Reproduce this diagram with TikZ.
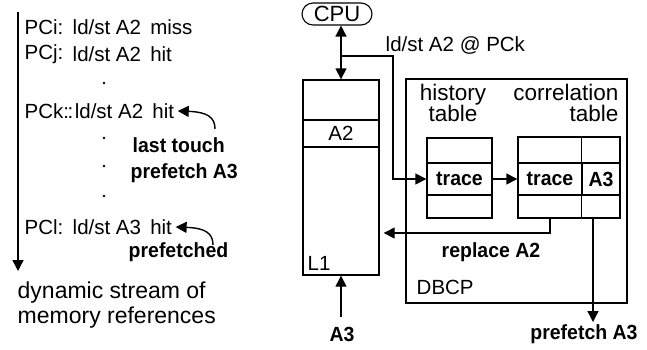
\documentclass[tikz,border=0pt]{standalone}
\usepackage{fontspec}
\setmainfont{Liberation Sans}
\newfontfamily\condsans[FakeStretch=0.95]{Liberation Sans}
\usetikzlibrary{arrows.meta}
\begin{document}
\begin{tikzpicture}[x=1pt,y=-1pt, line width=1.4pt,
  tip/.style={-{Triangle[length=11pt,width=11pt]}},
  dtip/.style={{Triangle[length=11pt,width=11pt]}-{Triangle[length=11pt,width=11pt]}},
  reg/.style={font=\fontsize{20.5}{24}\selectfont, inner sep=0pt},
  big/.style={font=\fontsize{23}{26}\selectfont, inner sep=0pt},
  bld/.style={font=\condsans\bfseries\fontsize{20.5}{24}\selectfont, inner sep=0pt},
  tlbl/.style={font=\fontsize{22.5}{21}\selectfont, inner sep=0pt},
  cell/.style={draw, inner sep=0pt, minimum width=#1},
  dot/.style={circle, fill, inner sep=0pt, minimum size=2.6pt}
]
\useasboundingbox (0,0) rectangle (647,349);

% ---- left: dynamic stream ----
\coordinate (vtop) at (18,12);
\coordinate (vbot) at (18,271);
\draw[tip] (vtop) -- (vbot);

\node[reg,anchor=west] (pci)  at (24,27) {PCi:};
\node[reg,anchor=west] (pcir) at (72,27) {ld/st A2\hspace{0.45em}miss};
\node[reg,anchor=west] (pcj)  at (24,54) {PCj:};
\node[reg,anchor=west] (pcjr) at (72,54) {ld/st A2\hspace{0.45em}hit};
\node[dot] (d1) at (104,83) {};
\node[reg,anchor=west] (pckr) at (24,111) {PCk:\kern-1.5pt:\kern1.5pt ld/st A2\hspace{0.45em}hit};
\node[dot] (d2) at (104,138) {};
\node[bld,anchor=west] (lt)  at (132,145) {last touch};
\node[dot] (d3) at (104,166) {};
\node[bld,anchor=west] (pa3) at (130,173) {prefetch A3};
\node[dot] (d4) at (104,196) {};
\node[reg,anchor=west] (pcl)  at (24,227) {PCl:};
\node[reg,anchor=west] (pclr) at (72,227) {ld/st A3\hspace{0.45em}hit};
\node[bld,anchor=west] (pfd) at (128,252) {prefetched};
\node[big,anchor=west] (dyn1) at (17,293) {dynamic stream of};
\node[big,anchor=west] (dyn2) at (17,318) {memory references};

\coordinate (ck) at (215,129);
\draw[tip] (ck) .. controls (215,117) and (207,112) .. ([xshift=3pt]pckr.east);
\coordinate (cl) at (213,245);
\draw[tip] (cl) .. controls (213,233) and (205,228) .. ([xshift=3pt]pclr.east);

% ---- right: hardware ----
\node[draw, line width=1.1pt, rounded corners=11pt, minimum width=70pt, minimum height=22pt,
      inner sep=0pt, font=\fontsize{22}{24}\selectfont] (cpu) at (337,14) {CPU};
\node[reg,anchor=west] (ldst) at (385,45) {ld/st A2 @ PCk};

\node[draw, minimum width=76pt, minimum height=195pt, inner sep=0pt] (L1) at (341,177.5) {};
\node[draw, minimum width=76pt, minimum height=27pt, inner sep=0pt, reg] (a2) at (341,133.5) {A2};
\node[reg,anchor=west] (l1lbl) at (307,263) {L1};

\node[draw, minimum width=221pt, minimum height=224pt, inner sep=0pt] (dbcp) at (516.5,191) {};
\node[reg,anchor=west] (dbcplbl) at (416,287) {DBCP};

\node[tlbl, align=center] (histl) at (453,103) {history\\table};
\node[tlbl, align=right, anchor=east] (corrl) at (619,103) {correlation\\table};

\node[draw, minimum width=65pt, minimum height=80pt, inner sep=0pt] (hist) at (459.5,178) {};
\node[cell=65pt, minimum height=32pt, bld] (htrace) at (459.5,179) {trace};

\node[draw, minimum width=102pt, minimum height=81pt, inner sep=0pt] (corr) at (569,177.5) {};
\node[cell=64pt, minimum height=32pt, bld] (ctrace) at (550,179) {trace};
\node[cell=38pt, minimum height=32pt, bld] (ca3) at (601,179) {A3};
\draw (ca3.west |- corr.north) -- (ca3.west |- corr.south);

% connectors
\draw[dtip] (L1.north |- cpu.south) -- (L1.north);
\coordinate (jn) at (341,56);
\coordinate (turn) at (393,56);
\draw[tip] (jn) -- (turn) |- (htrace.west);
\draw[tip] (htrace.east) -- (ctrace.west);

\coordinate (rep) at (550,233);
\draw[tip] (ctrace.south |- corr.south) -- (rep) -- ([xshift=4pt]rep -| L1.east);
\node[bld] (repl) at (491,252) {replace A2};

\coordinate (pfend) at (593,322);
\draw[tip] (pfend |- corr.south) -- (pfend);
\node[bld] (pfa3) at (584,334) {prefetch A3};

\node[bld] (a3) at (342,334) {A3};
\draw[tip, shorten <=9pt] (a3.north -| L1.south) -- (L1.south);
\end{tikzpicture}
\end{document}
